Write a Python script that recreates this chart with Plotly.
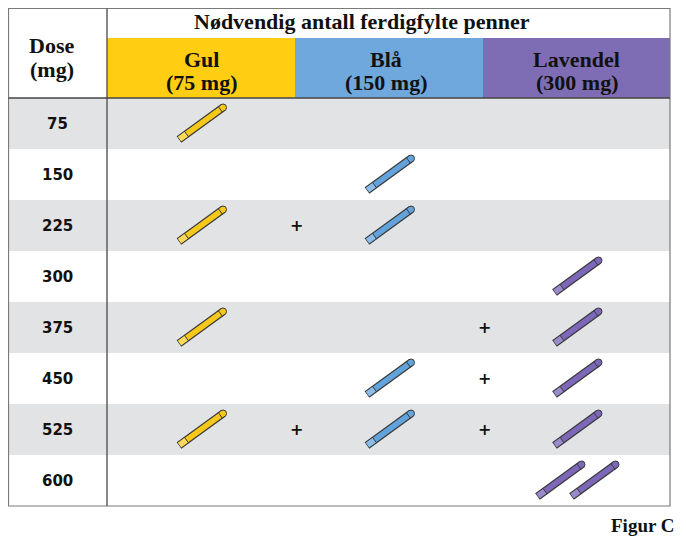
import plotly.graph_objects as go
import numpy as np

# ---- data ----
doses = [75, 150, 225, 300, 375, 450, 525, 600]
pen_names = ["Gul", "Blå", "Lavendel"]
pen_strengths = ["(75 mg)", "(150 mg)", "(300 mg)"]
gul_count = [1, 0, 1, 0, 1, 0, 1, 0]
bla_count = [0, 1, 1, 0, 0, 1, 1, 0]
lav_count = [0, 0, 0, 1, 1, 1, 1, 2]
header_title = "Nødvendig antall ferdigfylte penner"
dose_header = ["Dose", "(mg)"]
figure_label = "Figur C"

# ---- style / layout ----
W, H = 686, 537
OFF = 8  # page body margin
X0, XD, X_END = 8.5, 107, 670
col_edges = [107, 295, 483, 670]
Y_TOP, Y_TITLE, Y_HEAD = 8.5, 38, 98
ROW_H = 51
head_colors = ["#FFCE12", "#6FA8DC", "#7E6DB4"]
pen_colors = ["#F6C81A", "#62A3DC", "#7C67B8"]
cap_colors = ["#F9DA5A", "#8DBDE6", "#9A8ACA"]
outline = "#3A3A3A"
gray_row = "#E2E3E5"
serif = "Liberation Serif"
sans = "DejaVu Sans"

counts = [gul_count, bla_count, lav_count]
n_rows = len(doses)
Y_BOT = Y_HEAD + n_rows * ROW_H

fig = go.Figure()
shapes = []
annotations = []

# row backgrounds
for i in range(n_rows):
    y0 = Y_HEAD + i * ROW_H
    if i % 2 == 0:
        shapes.append(dict(type="rect", x0=X0, x1=X_END, y0=y0, y1=y0 + ROW_H,
                           fillcolor=gray_row, line_width=0, layer="below"))
# header colour cells
for j in range(3):
    shapes.append(dict(type="rect", x0=col_edges[j], x1=col_edges[j + 1], y0=Y_TITLE, y1=Y_HEAD,
                       fillcolor=head_colors[j], line_width=0, layer="below"))
# borders
shapes.append(dict(type="rect", x0=X0, x1=X_END, y0=Y_TOP, y1=Y_BOT,
                   line=dict(color="#7A7A7A", width=1.2), fillcolor="rgba(0,0,0,0)"))
shapes.append(dict(type="line", x0=XD, x1=XD, y0=Y_TOP, y1=Y_BOT, line=dict(color="#555555", width=1.4)))
shapes.append(dict(type="line", x0=X0, x1=X_END, y0=Y_HEAD, y1=Y_HEAD, line=dict(color="#444444", width=1.4)))


def txt(x, y, s, size, family=serif, xanchor="center"):
    annotations.append(dict(x=x, y=y, text="<b>" + s + "</b>", showarrow=False, xanchor=xanchor,
                            font=dict(family=family, size=size, color="#111")))


# header text
txt(362, 21, header_title, 22)
txt((X0 + XD) / 2 - 6, 45, dose_header[0], 22)
txt((X0 + XD) / 2 - 6, 69, dose_header[1], 22)
head_shift = [0, -3, 0]
for j in range(3):
    cx = (col_edges[j] + col_edges[j + 1]) / 2 + head_shift[j]
    txt(cx, 59, pen_names[j], 22)
    txt(cx, 82, pen_strengths[j], 22)
txt(X_END + 7, 525, figure_label, 19, xanchor="right")

# pens
DX, DY = 44, -32
L = np.hypot(DX, DY)
ux, uy = DX / L, DY / L


def add_pen(cx, cy, j):
    p0 = (cx - DX / 2, cy - DY / 2)
    p1 = (cx + DX / 2, cy + DY / 2)
    capf = 0.17
    pc = (p0[0] + DX * capf, p0[1] + DY * capf)
    fig.add_trace(go.Scatter(x=[p0[0], p1[0]], y=[p0[1], p1[1]], mode="lines",
                             line=dict(color=outline, width=8), hoverinfo="skip", showlegend=False))
    fig.add_trace(go.Scatter(x=[p1[0]], y=[p1[1]], mode="markers",
                             marker=dict(size=7, color=pen_colors[j], line=dict(color=outline, width=1)),
                             hoverinfo="skip", showlegend=False))
    fig.add_trace(go.Scatter(x=[p0[0] + ux * 0.8, p1[0]], y=[p0[1] + uy * 0.8, p1[1]],
                             mode="lines", line=dict(color=pen_colors[j], width=5.5),
                             hoverinfo="skip", showlegend=False))
    fig.add_trace(go.Scatter(x=[p0[0] + ux * 0.8, pc[0]], y=[p0[1] + uy * 0.8, pc[1]],
                             mode="lines", line=dict(color=cap_colors[j], width=5.5),
                             hoverinfo="skip", showlegend=False))
    nx, ny = -uy, ux
    for f in (capf, 0.94):
        q = (p0[0] + DX * f, p0[1] + DY * f)
        fig.add_trace(go.Scatter(x=[q[0] - nx * 3.7, q[0] + nx * 3.7], y=[q[1] - ny * 3.7, q[1] + ny * 3.7],
                                 mode="lines", line=dict(color=outline, width=1),
                                 hoverinfo="skip", showlegend=False))


for i, d in enumerate(doses):
    cy = Y_HEAD + i * ROW_H + ROW_H / 2
    txt((X0 + XD) / 2, cy, str(d), 15, family=sans)
    any_before = False
    for j in range(3):
        n = counts[j][i]
        cx = (col_edges[j] + col_edges[j + 1]) / 2
        if n > 0:
            if any_before:
                txt(col_edges[j] + 1, cy, "+", 16, family=sans)
            offsets = [0] if n == 1 else [-17, 17]
            for o in offsets:
                add_pen(cx + o, cy, j)
            any_before = True

fig.update_layout(
    width=W - OFF, height=H - OFF, margin=dict(l=0, r=0, t=0, b=0),
    paper_bgcolor="white", plot_bgcolor="white",
    xaxis=dict(range=[OFF, W], visible=False, fixedrange=True),
    yaxis=dict(range=[H, OFF], visible=False, fixedrange=True),
    shapes=shapes, annotations=annotations, showlegend=False,
)
fig.write_html("out.html")
